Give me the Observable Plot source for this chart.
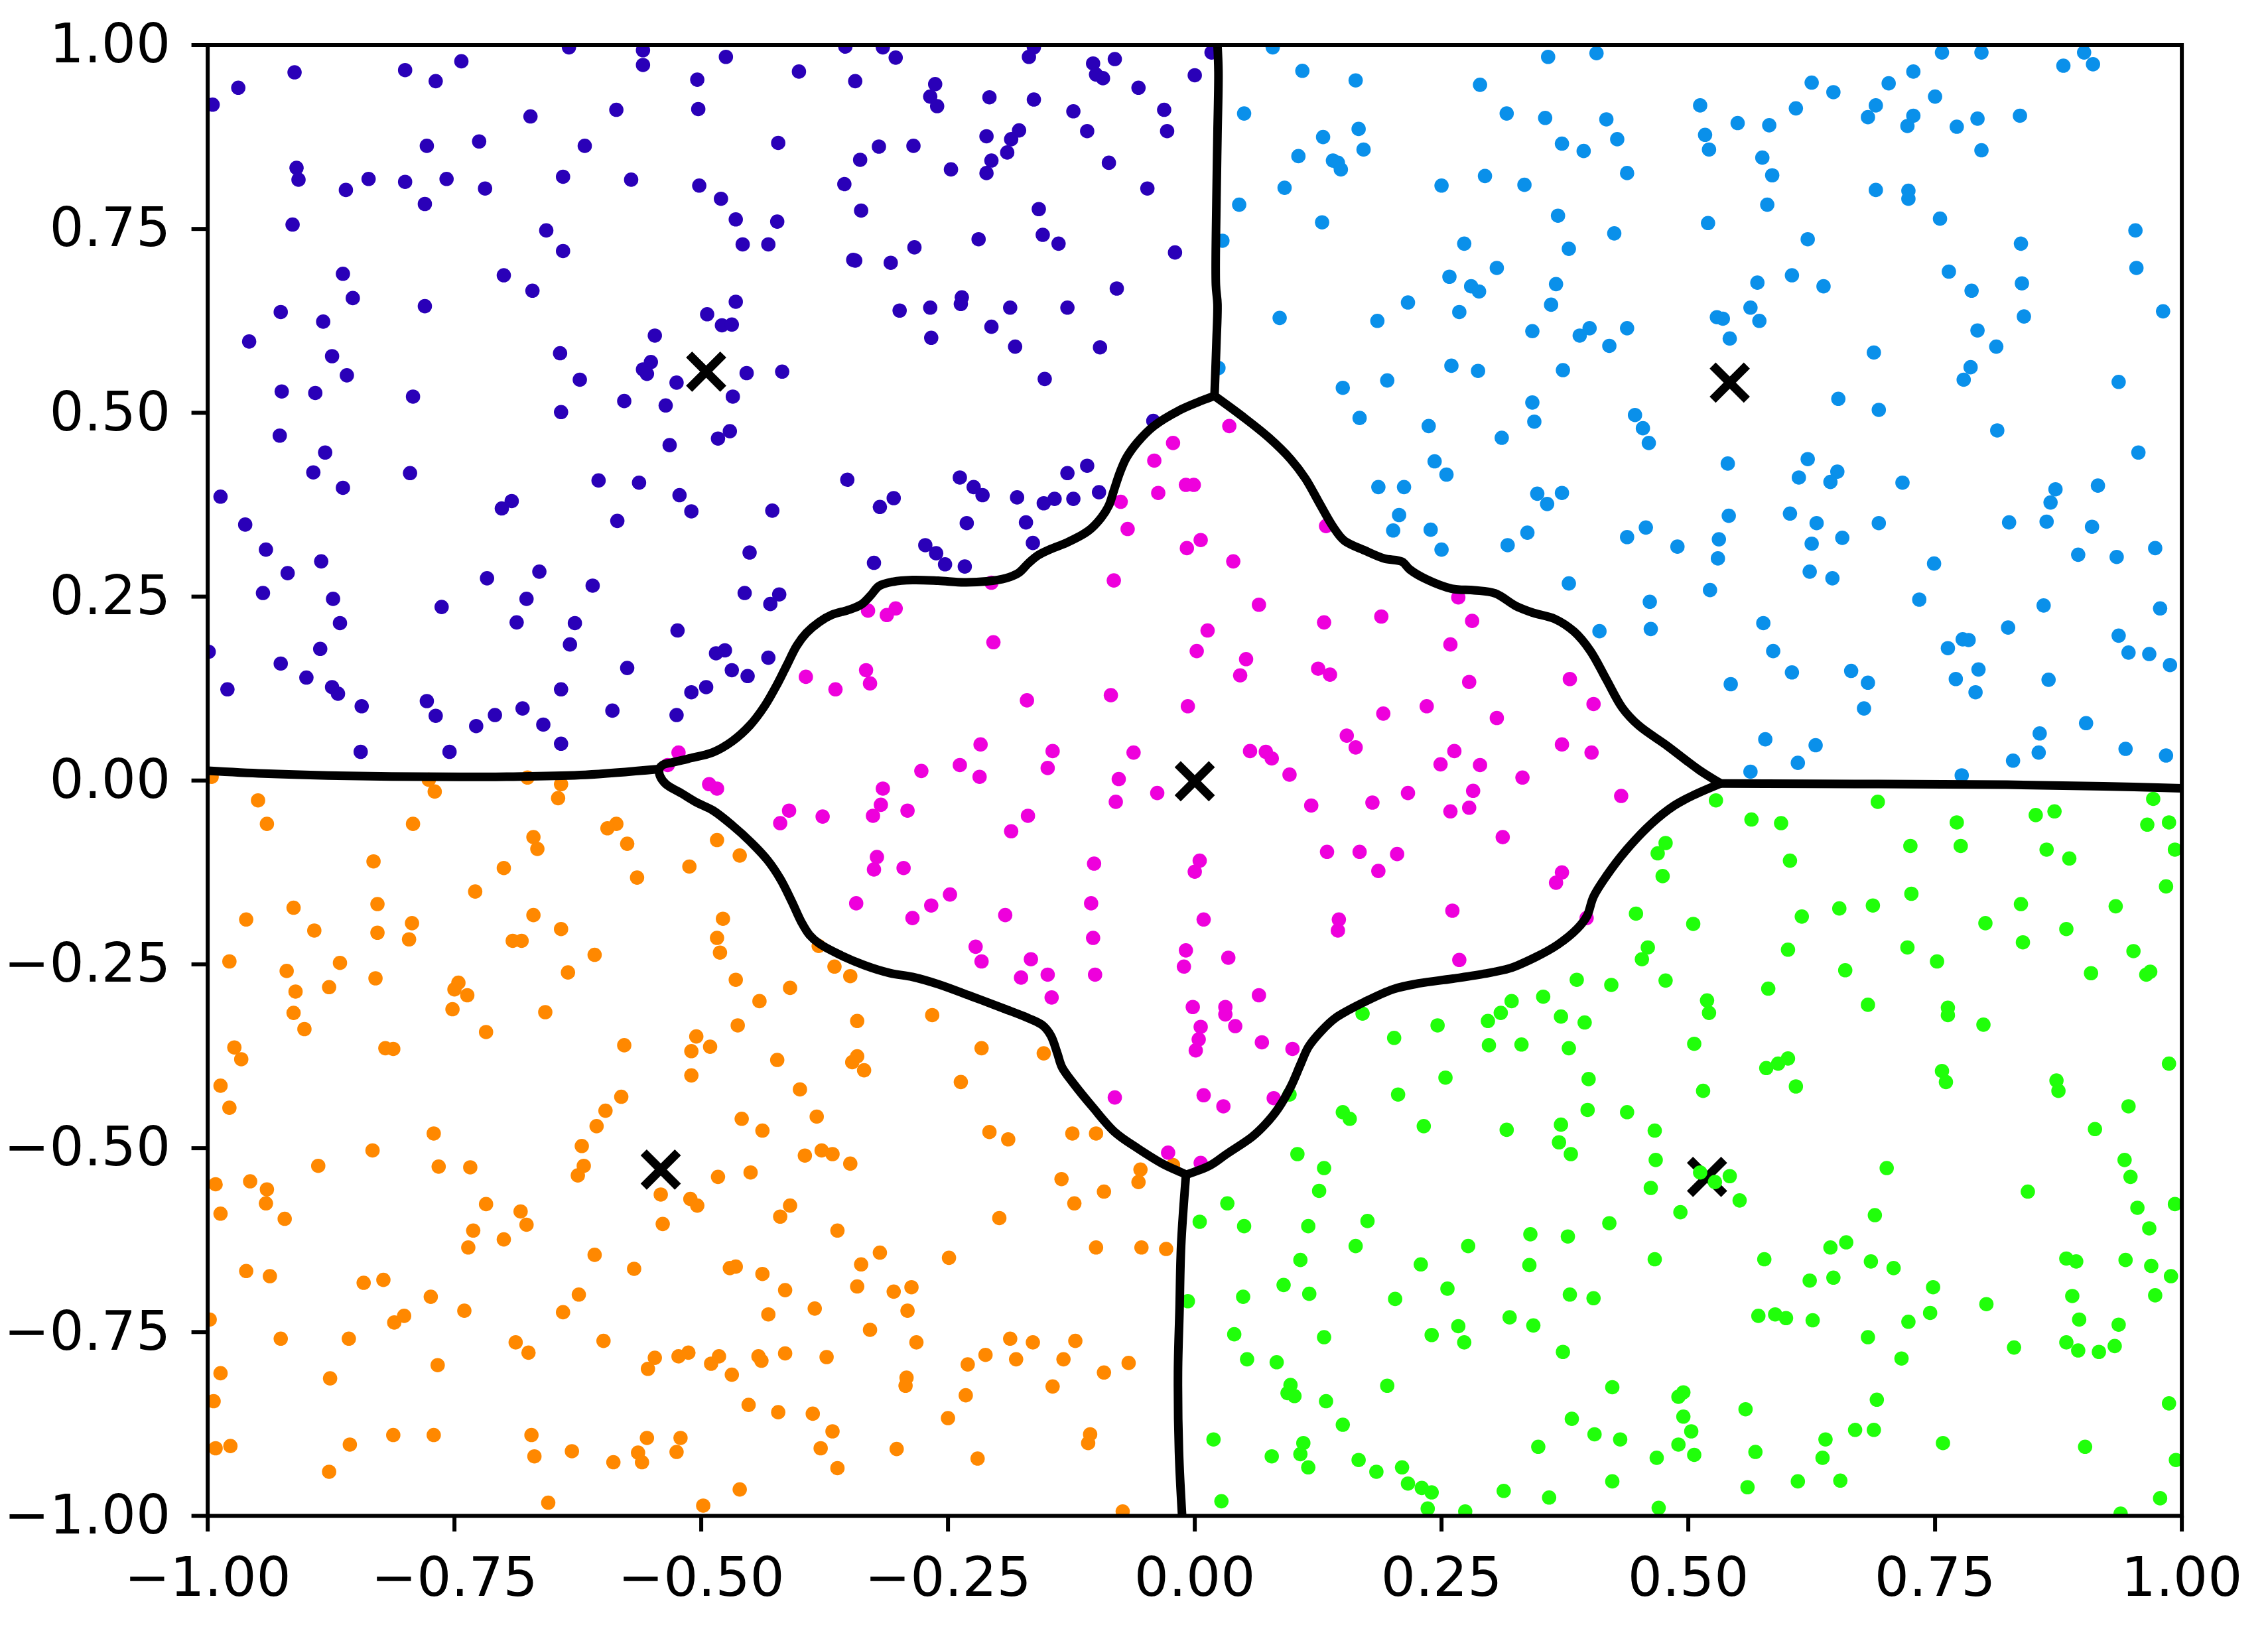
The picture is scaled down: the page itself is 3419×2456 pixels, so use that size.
<!DOCTYPE html>
<html><head><meta charset="utf-8">
<style>html,body{margin:0;padding:0;background:#fff}svg{display:block}</style>
<script src="https://cdn.jsdelivr.net/npm/d3@7"></script>
<script src="https://cdn.jsdelivr.net/npm/@observablehq/plot@0.6"></script>
</head><body><div id="chart"></div>
<script>
const tickValues=[-1,-0.75,-0.5,-0.25,0,0.25,0.5,0.75,1];
const colorPurple="#2a00b8",colorBlue="#0a90ea",colorOrange="#ff8800",colorGreen="#20ff0a",colorMagenta="#ee00dc";
const centroids=[[-.495,.556],[.542,.541],[-.541,-.529],[.519,-.539],[0,-.001]];
const purple=[[-.634,.997],[-.559,.993],[-.559,.973],[-.743,.978],[-.8,.966],[-.769,.951],[-.912,.963],[-.969,.942],[-.995,.919],[-.504,.953],[-.503,.913],[-.586,.912],[-.673,.903],[-.618,.863],[-.725,.869],[-.778,.863],[-.91,.833],[-.908,.817],[-.86,.803],[-.837,.818],[-.8,.814],[-.758,.818],[-.719,.805],[-.78,.784],[-.64,.821],[-.571,.817],[-.502,.809],[-.914,.756],[-.657,.748],[-.64,.72],[-.863,.689],[-.7,.687],[-.671,.666],[-.853,.656],[-.78,.645],[-.926,.637],[-.883,.624],[-.958,.597],[-.547,.605],[-.643,.581],[-.551,.569],[-.559,.559],[-.555,.553],[-.874,.577],[-.859,.551],[-.623,.545],[-.525,.541],[-.925,.529],[-.891,.527],[-.792,.522],[-.578,.516],[-.536,.51],[-.642,.501],[-.927,.469],[-.532,.456],[-.881,.446],[-.893,.419],[-.795,.418],[-.604,.408],[-.563,.405],[-.863,.398],[-.692,.38],[-.702,.37],[-.522,.388],[-.51,.366],[-.987,.386],[-.962,.348],[-.585,.353],
[-.354,.998],[-.316,.997],[-.303,.983],[-.475,.984],[-.401,.964],[-.344,.951],[-.263,.947],[-.268,.93],[-.261,.917],[-.208,.929],[-.163,.926],[-.163,.997],[-.168,.984],[-.103,.975],[-.081,.981],[-.1,.96],[-.093,.955],[-.057,.942],[0,.959],[-.123,.91],[-.031,.912],[-.109,.883],[-.028,.883],[-.211,.876],[-.178,.884],[-.186,.872],[-.19,.854],[-.206,.843],[-.211,.826],[-.247,.831],[-.422,.867],[-.32,.862],[-.285,.863],[-.339,.844],[-.087,.84],[-.355,.811],[-.048,.805],[-.48,.791],[-.465,.763],[-.423,.76],[-.338,.775],[-.158,.777],[-.154,.742],[-.138,.73],[-.219,.736],[-.458,.729],[-.432,.729],[-.284,.725],[-.346,.708],[-.344,.707],[-.308,.704],[-.02,.718],[-.079,.669],[-.465,.651],[-.494,.634],[-.479,.619],[-.469,.62],[-.236,.657],[-.237,.648],[-.299,.639],[-.268,.643],[-.187,.643],[-.129,.643],[-.206,.617],[-.267,.602],[-.182,.59],[-.096,.589],[-.454,.554],[-.418,.556],[-.152,.546],[-.468,.522],[-.471,.475],[-.483,.465],[-.042,.489],[-.109,.428],[-.129,.418],[-.352,.409],[-.238,.412],[-.224,.399],[-.215,.388],[-.305,.384],[-.319,.372],[-.428,.367],[-.18,.385],[-.142,.383],[-.153,.377],[-.123,.383],[-.097,.392],[-.231,.35],[-.171,.351],[.017,.99],
[-.941,.314],[-.919,.282],[-.885,.298],[-.944,.255],[-.873,.247],[-.717,.275],[-.664,.284],[-.61,.265],[-.763,.236],[-.677,.247],[-.866,.214],[-.687,.215],[-.628,.214],[-.524,.204],[-.999,.175],[-.886,.179],[-.633,.185],[-.926,.159],[-.9,.14],[-.575,.153],[-.98,.124],[-.874,.127],[-.868,.118],[-.642,.124],[-.844,.101],[-.778,.108],[-.769,.088],[-.709,.089],[-.681,.098],[-.728,.074],[-.66,.076],[-.59,.095],[-.525,.089],[-.51,.12],[-.845,.039],[-.755,.039],[-.642,.05],
[-.451,.31],[-.273,.32],[-.262,.309],[-.253,.294],[-.233,.291],[-.325,.296],[-.164,.323],[-.456,.255],[-.421,.253],[-.43,.24],[-.476,.177],[-.485,.173],[-.432,.167],[-.469,.15],[-.453,.142],[-.495,.127]];
const blue=[[.079,.997],[.109,.965],[.163,.952],[.289,.946],[.358,.984],[.407,.989],[.05,.907],[.316,.907],[.355,.901],[.417,.899],[.166,.886],[.13,.875],[.171,.858],[.105,.849],[.14,.843],[.145,.84],[.148,.831],[.372,.866],[.394,.856],[.428,.872],[.438,.826],[.294,.822],[.25,.809],[.334,.81],[.091,.806],[.045,.783],[.129,.759],[.368,.768],[.425,.744],[.273,.73],[.379,.723],[.028,.734],[.306,.697],[.258,.685],[.28,.672],[.288,.665],[.366,.675],[.361,.647],[.216,.65],[.268,.637],[.185,.625],[.086,.629],[.342,.611],[.4,.615],[.39,.605],[.438,.615],[.42,.591],[.26,.564],[.287,.557],[.373,.558],[.024,.561],[.195,.544],[.15,.534],[.342,.514],[.344,.488],[.167,.493],[.237,.482],[.311,.466],[.446,.497],[.454,.479],[.46,.459],[.243,.434],[.255,.416],[.186,.399],[.212,.399],[.347,.39],[.372,.391],[.357,.376],[.207,.361],[.201,.34],[.239,.341],[.337,.337],[.457,.344],[.438,.331],[.25,.314],[.317,.32],[.489,.318],[.379,.268],[.461,.243],[.41,.203],[.462,.206],
[.757,.99],[.797,.99],[.901,.99],[.88,.972],[.91,.974],[.728,.964],[.625,.949],[.647,.936],[.703,.948],[.75,.93],[.512,.918],[.69,.918],[.609,.914],[.682,.902],[.728,.904],[.722,.89],[.772,.889],[.793,.9],[.836,.904],[.55,.894],[.582,.891],[.517,.878],[.521,.858],[.797,.857],[.575,.847],[.585,.823],[.69,.803],[.723,.802],[.723,.791],[.58,.783],[.52,.758],[.755,.764],[.953,.748],[.621,.736],[.837,.73],[.954,.697],[.764,.692],[.605,.687],[.57,.677],[.637,.672],[.787,.666],[.838,.676],[.563,.643],[.529,.63],[.535,.628],[.572,.625],[.981,.638],[.84,.631],[.793,.612],[.542,.601],[.812,.59],[.688,.582],[.786,.562],[.779,.545],[.936,.542],[.652,.519],[.693,.504],[.813,.476],[.956,.446],[.54,.431],[.621,.437],[.651,.42],[.612,.412],[.644,.406],[.717,.405],[.872,.396],[.915,.401],[.867,.378],[.541,.36],[.603,.363],[.63,.35],[.693,.35],[.825,.351],[.863,.352],[.909,.345],
[.531,.328],[.656,.33],[.625,.322],[.53,.302],[.895,.307],[.934,.304],[.973,.316],[.749,.295],[.623,.284],[.646,.275],[.522,.259],[.734,.246],[.86,.238],[.978,.234],[.576,.214],[.824,.208],[.936,.197],[.778,.192],[.784,.191],[.763,.18],[.586,.176],[.946,.174],[.967,.172],[.988,.157],[.605,.147],[.665,.149],[.794,.151],[.682,.133],[.771,.138],[.543,.131],[.865,.137],[.791,.12],[.678,.098],[.903,.078],[.856,.064],[.578,.056],[.629,.048],[.855,.038],[.943,.043],[.984,.034],[.611,.024],[.829,.027],[.563,.012],[.777,.007]];
const magenta=[[-.022,.459],[-.041,.435],[-.009,.402],[-.001,.402],[-.037,.391],[-.075,.379],[-.068,.342],[.035,.482],[.133,.346],[-.523,.038],[-.534,.021],
[-.206,.269],[-.008,.316],[-.082,.272],[-.331,.231],[-.312,.225],[-.303,.234],[-.204,.188],[-.333,.15],[-.329,.132],[-.394,.141],[-.364,.124],[-.17,.109],[-.085,.116],[-.007,.101],[-.217,.049],[-.144,.04],[-.062,.038],[-.238,.021],[-.149,.017],[-.277,.013],[-.218,.005],[-.077,.002],[-.492,-.005],[-.484,-.011],[-.316,-.011],[-.038,-.017],[-.08,-.029],[-.411,-.041],[-.318,-.033],[-.291,-.041],[-.326,-.048],[-.377,-.049],[-.42,-.058],[-.169,-.048],[-.186,-.069],[-.322,-.104],[-.325,-.121],[-.295,-.119],[-.102,-.113],[.005,-.109],[0,-.124],[-.248,-.155],[-.343,-.167],[-.267,-.17],[-.286,-.187],[-.192,-.183],[-.105,-.167],[-.103,-.214],[-.222,-.226],[-.216,-.246],[-.166,-.243],[-.176,-.268],[-.149,-.264],[-.101,-.264],[-.145,-.295],[-.009,-.231],[-.011,-.253],[-.002,-.308],
[.006,.327],[.039,.298],[.065,.239],[.013,.204],[.002,.176],[.052,.165],[.046,.143],[.131,.215],[.189,.223],[.267,.249],[.281,.217],[.259,.185],[.125,.152],[.137,.144],[.278,.134],[.38,.138],[.404,.104],[.235,.101],[.191,.091],[.306,.085],[.154,.061],[.163,.045],[.056,.04],[.072,.039],[.078,.03],[.096,.008],[.263,.04],[.249,.022],[.289,.021],[.372,.049],[.402,.038],[.332,.004],[.432,-.021],[.282,-.014],[.216,-.017],[.18,-.03],[.118,-.034],[.278,-.037],[.259,-.042],[.312,-.077],[.134,-.097],[.167,-.097],[.205,-.1],[.186,-.123],[.372,-.125],[.366,-.139],[.261,-.177],[.009,-.189],[.146,-.189],[.145,-.204],[.397,-.187],[.034,-.241],[.268,-.244],[.065,-.292],[.031,-.308],[.031,-.318],[.006,-.335],[.041,-.334],
[.004,-.352],[.001,-.367],[.068,-.356],[.099,-.365],[.009,-.428],[.029,-.443],[.08,-.432],[.006,-.52],[-.081,-.431],[-.027,-.506]];
const orange=[[-.996,.005],[-.776,.001],[-.77,-.015],[-.676,.004],[-.642,-.005],[-.645,-.024],[-.949,-.027],[-.94,-.059],[-.792,-.059],[-.586,-.059],[-.595,-.065],[-.67,-.077],[-.575,-.086],[-.666,-.093],[-.832,-.11],[-.7,-.119],[-.512,-.117],[-.565,-.132],[-.729,-.151],[-.913,-.173],[-.828,-.168],[-.961,-.189],[-.67,-.183],[-.793,-.194],[-.892,-.204],[-.828,-.207],[-.642,-.202],[-.796,-.216],[-.691,-.218],[-.682,-.218],[-.608,-.237],[-.978,-.246],[-.866,-.248],[-.92,-.259],[-.635,-.261],[-.83,-.269],[-.877,-.281],[-.911,-.287],[-.746,-.275],[-.75,-.284],[-.737,-.292],[-.752,-.311],[-.658,-.315],[-.913,-.316],
[-.902,-.338],[-.718,-.342],[-.973,-.363],[-.82,-.364],[-.812,-.365],[-.578,-.36],[-.505,-.348],[-.51,-.368],[-.966,-.379],[-.51,-.401],[-.987,-.415],[-.581,-.43],[-.978,-.445],[-.597,-.449],[-.606,-.47],[-.771,-.48],[-.621,-.497],[-.833,-.503],[-.888,-.524],[-.766,-.525],[-.734,-.526],[-.619,-.524],[-.625,-.537],[-.992,-.549],[-.957,-.545],[-.94,-.556],[-.941,-.575],[-.541,-.563],[-.511,-.569],[-.504,-.578],[-.718,-.576],[-.683,-.586],[-.987,-.589],[-.922,-.596],[-.677,-.604],[-.539,-.603],[-.731,-.612],[-.7,-.624],[-.736,-.635],[-.608,-.645],[-.568,-.664],[-.961,-.667],[-.937,-.674],[-.822,-.679],[-.842,-.683],[-.774,-.702],[-.624,-.699],[-.74,-.721],[-.64,-.723],[-.801,-.728],[-.811,-.737],[-.998,-.733],[-.926,-.759],[-.857,-.759],[-.688,-.764],[-.599,-.762],[-.675,-.778],[-.547,-.785],[-.523,-.783],[-.513,-.778],[-.554,-.8],[-.767,-.795],[-.987,-.806],[-.876,-.813],[-.994,-.844],[-.812,-.89],[-.771,-.89],[-.672,-.89],[-.555,-.894],[-.521,-.894],[-.992,-.908],[-.977,-.905],[-.856,-.903],[-.669,-.919],[-.631,-.912],[-.564,-.914],[-.56,-.927],[-.525,-.913],[-.589,-.927],[-.877,-.94],[-.655,-.982],
[-.484,-.081],[-.461,-.102],[-.478,-.188],[-.484,-.214],[-.481,-.234],[-.381,-.225],[-.365,-.253],[-.349,-.266],[-.465,-.271],[-.41,-.282],[-.441,-.3],[-.342,-.327],[-.266,-.319],[-.463,-.333],
[-.491,-.362],[-.423,-.38],[-.342,-.375],[-.347,-.383],[-.335,-.394],[-.216,-.364],[-.153,-.371],[-.237,-.41],[-.4,-.42],[-.459,-.46],[-.438,-.476],[-.383,-.457],[-.208,-.478],[-.189,-.488],[-.124,-.48],[-.1,-.48],[-.378,-.503],[-.367,-.508],[-.395,-.51],[-.349,-.521],[-.055,-.529],[-.022,-.523],[-.135,-.542],[-.057,-.546],[-.092,-.559],[-.45,-.533],[-.483,-.539],[-.41,-.578],[-.42,-.593],[-.122,-.575],[-.198,-.595],[-.362,-.612],[-.1,-.635],[-.054,-.635],[-.029,-.637],[-.319,-.642],[-.249,-.649],[-.338,-.658],[-.465,-.661],[-.471,-.663],[-.438,-.671],[-.415,-.693],[-.342,-.688],[-.305,-.695],[-.287,-.689],[-.291,-.721],[-.385,-.718],[-.432,-.726],[-.329,-.747],[-.282,-.764],[-.187,-.759],[-.164,-.764],[-.121,-.762],[-.212,-.781],[-.181,-.787],[-.133,-.787],[-.23,-.794],[-.067,-.792],[-.092,-.805],[-.144,-.824],[-.482,-.783],[-.49,-.793],[-.469,-.808],[-.442,-.783],[-.439,-.789],[-.415,-.779],[-.373,-.784],[-.292,-.812],[-.293,-.823],[-.232,-.836],[-.452,-.849],[-.422,-.859],[-.387,-.861],[-.25,-.867],[-.367,-.885],[-.106,-.889],[-.108,-.901],[-.379,-.908],[-.302,-.909],[-.22,-.922],[-.362,-.935],[-.461,-.964],[-.498,-.986],[-.073,-.994]];
const green=[[.477,-.085],[.469,-.099],[.474,-.13],[.447,-.181],[.505,-.195],[.459,-.227],[.453,-.243],[.387,-.271],[.422,-.278],[.477,-.272],[.353,-.294],[.321,-.3],[.31,-.316],[.297,-.327],[.371,-.321],[.395,-.329],[.246,-.333],[.17,-.317],
[.202,-.35],[.298,-.36],[.331,-.359],[.379,-.364],[.506,-.358],[.254,-.404],[.399,-.406],[.206,-.427],[.096,-.427],[.15,-.451],[.157,-.46],[.398,-.448],[.438,-.451],[.232,-.47],[.316,-.475],[.371,-.468],[.466,-.476],[.369,-.492],[.381,-.508],[.104,-.508],[.131,-.527],[.467,-.516],[.126,-.558],[.462,-.554],[.033,-.575],[.492,-.587],[.005,-.6],[.05,-.606],[.115,-.606],[.175,-.599],[.42,-.602],[.34,-.617],[.378,-.62],[.277,-.633],[.163,-.633],[.107,-.652],[.229,-.658],[.339,-.659],[.466,-.651],[.09,-.686],[.116,-.698],[.049,-.702],[.203,-.705],[.256,-.691],[.38,-.699],[.404,-.704],[.319,-.73],[.267,-.742],[.343,-.741],[.04,-.753],[.131,-.757],[.24,-.754],[.273,-.764],[.373,-.777],[.053,-.787],[.083,-.791],[.097,-.822],[.094,-.833],[.101,-.837],[.195,-.823],[.133,-.844],[.423,-.825],[.495,-.832],[.49,-.838],[.382,-.868],[.495,-.865],[.15,-.876],[.405,-.889],[.431,-.896],[.503,-.885],[.019,-.896],[.11,-.901],[.107,-.916],[.078,-.919],[.115,-.934],[.348,-.906],[.49,-.903],[.506,-.917],[.468,-.921],[.166,-.924],[.184,-.94],[.21,-.934],[.216,-.956],[.23,-.962],[.24,-.968],[.313,-.966],[.359,-.975],[.423,-.953],[.027,-.98],[.236,-.99],[.274,-.994],[.47,-.989],[-.007,-.708],
[.528,-.027],[.692,-.029],[.564,-.053],[.594,-.058],[.772,-.057],[.852,-.047],[.871,-.042],[.971,-.025],[.965,-.06],[.987,-.057],[.725,-.089],[.776,-.089],[.863,-.094],[.993,-.094],[.886,-.106],[.603,-.109],[.984,-.144],[.726,-.154],[.837,-.168],[.687,-.17],[.653,-.174],[.615,-.185],[.933,-.171],[.801,-.194],[.883,-.202],[.839,-.22],[.601,-.23],[.722,-.227],[.951,-.232],[.752,-.246],[.659,-.258],[.908,-.262],[.968,-.26],[.964,-.264],[.581,-.283],[.682,-.305],[.519,-.299],[.521,-.316],[.763,-.309],[.763,-.319],[.799,-.332],
[.515,-.422],[.579,-.391],[.591,-.385],[.601,-.378],[.609,-.416],[.757,-.395],[.761,-.41],[.873,-.408],[.875,-.422],[.987,-.385],[.946,-.443],[.912,-.474],[.942,-.516],[.948,-.539],[.701,-.527],[.844,-.559],[.512,-.533],[.527,-.546],[.542,-.538],[.552,-.571],[.689,-.591],[.955,-.581],[.993,-.576],[.967,-.609],[.66,-.628],[.644,-.635],[.577,-.651],[.685,-.654],[.708,-.663],[.883,-.65],[.893,-.654],[.943,-.652],[.969,-.66],[.989,-.674],[.647,-.676],[.623,-.68],[.748,-.689],[.889,-.701],[.973,-.7],[.802,-.712],[.571,-.728],[.588,-.726],[.599,-.731],[.626,-.734],[.745,-.724],[.723,-.736],[.896,-.733],[.936,-.74],[.682,-.757],[.883,-.764],[.895,-.775],[.916,-.777],[.932,-.769],[.83,-.771],[.716,-.786],[.691,-.842],[.558,-.855],[.987,-.847],[.669,-.883],[.688,-.883],[.639,-.896],[.758,-.901],[.902,-.906],[.568,-.913],[.636,-.921],[.611,-.953],[.654,-.952],[.56,-.961],[.994,-.924],[.978,-.976],[.938,-.997]];
const edgeTop=[[.023,1],[.024,.964],[.023,.877],[.022,.791],[.0214,.674],[.023,.648],[.022,.597],[.02,.523]];
const edgeBottom=[[-.0089,-.5361],[-.0138,-.632],[-.0154,-.7184],[-.017,-.8048],[-.016,-.9128],[-.0128,-1]];
const edgeLeft=[[-1,.0133],[-.9433,.0094],[-.8781,.0068],[-.7803,.0051],[-.6825,.0055],[-.6173,.0077],[-.543,.0155]];
const edgeRight=[[.5328,-.004],[.6925,-.0048],[.8229,-.0057],[.9207,-.0079],[1,-.0105]];
const arcTopLeft=[[.02,.523],[.007,.5165],[-.0154,.5035],[-.0415,.482],[-.058,.46],[-.0692,.439],[-.0757,.4193],[-.0822,.3934],[-.087,.374],[-.095,.357],[-.108,.3393],[-.1295,.3235],[-.1458,.3148],[-.1588,.3062],[-.1686,.2954],[-.1784,.2824],[-.1914,.2751],[-.211,.2708],[-.2338,.2695],[-.26,.2716],[-.286,.2725],[-.3055,.2703],[-.32,.2643],[-.328,.2522],[-.338,.2392],[-.351,.2319],[-.3675,.2254],[-.3805,.2155],[-.3936,.2004],[-.4033,.1831],[-.4131,.1572],[-.4229,.1312],[-.4359,.101],[-.4506,.0751],[-.4685,.0535],[-.4881,.0384],[-.513,.0297],[-.5293,.0245],[-.5391,.0211],[-.543,.0155]];
const arcBottomLeft=[[-.543,.0155],[-.5417,.006],[-.5358,-.0048],[-.5195,-.0178],[-.5044,-.03],[-.4881,-.0407],[-.4685,-.061],[-.449,-.0848],[-.4327,-.1085],[-.4196,-.1345],[-.4082,-.1647],[-.3984,-.1928],[-.3903,-.21],[-.3805,-.2217],[-.361,-.236],[-.3349,-.2511],[-.3088,-.2619],[-.286,-.2671],[-.2599,-.277],[-.2273,-.293],[-.1947,-.3094],[-.1686,-.3232],[-.154,-.3331],[-.1458,-.3469],[-.1393,-.3706],[-.1344,-.3901],[-.123,-.4117],[-.1034,-.4441],[-.0806,-.4786],[-.0578,-.5002],[-.0317,-.5218],[-.0121,-.5339],[-.0089,-.5361]];
const arcBottomRight=[[-.0089,-.5361],[.0159,-.5231],[.0322,-.508],[.0583,-.4843],[.0713,-.4678],[.0844,-.4462],[.0974,-.416],[.1072,-.3858],[.1153,-.362],[.1284,-.3404],[.143,-.3224],[.1724,-.3008],[.2017,-.2835],[.2278,-.2757],[.2604,-.2697],[.293,-.2628],[.3191,-.2554],[.3452,-.2403],[.368,-.223],[.3876,-.2014],[.3974,-.1841],[.4039,-.1582],[.4169,-.1301],[.4365,-.0956],[.4625,-.0588],[.4853,-.0345],[.506,-.0195],[.5328,-.004]];
const arcTopRight=[[.02,.523],[.0485,.4949],[.0746,.4668],[.0974,.4366],[.1121,.4106],[.1267,.3761],[.1398,.3458],[.1512,.3265],[.1724,.3127],[.1919,.3019],[.2099,.2976],[.218,.2868],[.2343,.2738],[.2604,.2608],[.2832,.2587],[.3044,.2544],[.3256,.2371],[.3419,.2284],[.3647,.2198],[.3843,.2025],[.4006,.1766],[.4169,.1377],[.4332,.0988],[.4495,.0751],[.4788,.047],[.5107,.0146],[.5328,-.004]];

const groups=[[purple,colorPurple],[blue,colorBlue],[orange,colorOrange],[green,colorGreen],[magenta,colorMagenta]];
const edges=[edgeTop,edgeBottom,edgeLeft,edgeRight,arcTopLeft,arcBottomLeft,arcBottomRight,arcTopRight];
const px=d=>d[0],py=d=>d[1];
const chart=Plot.plot({
  width:3419,height:2456,marginLeft:312.6,marginRight:130.4,marginTop:67.5,marginBottom:171,
  style:{fontFamily:"DejaVu Sans",background:"#fff",color:"#000"},
  x:{domain:[-1,1]},y:{domain:[-1,1]},
  marks:[
    Plot.dot(centroids,{x:px,y:py,symbol:"times",r:23.5,stroke:"#000",strokeWidth:13}),
    ...groups.map(([pts,c])=>Plot.dot(pts,{x:px,y:py,r:10.8,fill:c,clip:"frame"})),
    ...edges.map(e=>Plot.line(e,{x:px,y:py,stroke:"#000",strokeWidth:13,curve:"catmull-rom",strokeLinecap:"butt",strokeLinejoin:"round"})),
    Plot.frame({stroke:"#000",strokeWidth:6}),
    Plot.axisX({ticks:tickValues,tickFormat:d3.format(".2f"),tickSize:24,tickPadding:38,fontSize:82,strokeWidth:6,label:null}),
    Plot.axisY({ticks:tickValues,tickFormat:d3.format(".2f"),tickSize:24,tickPadding:32,fontSize:82,strokeWidth:6,label:null})
  ]
});
document.getElementById("chart").append(chart);
</script></body></html>
